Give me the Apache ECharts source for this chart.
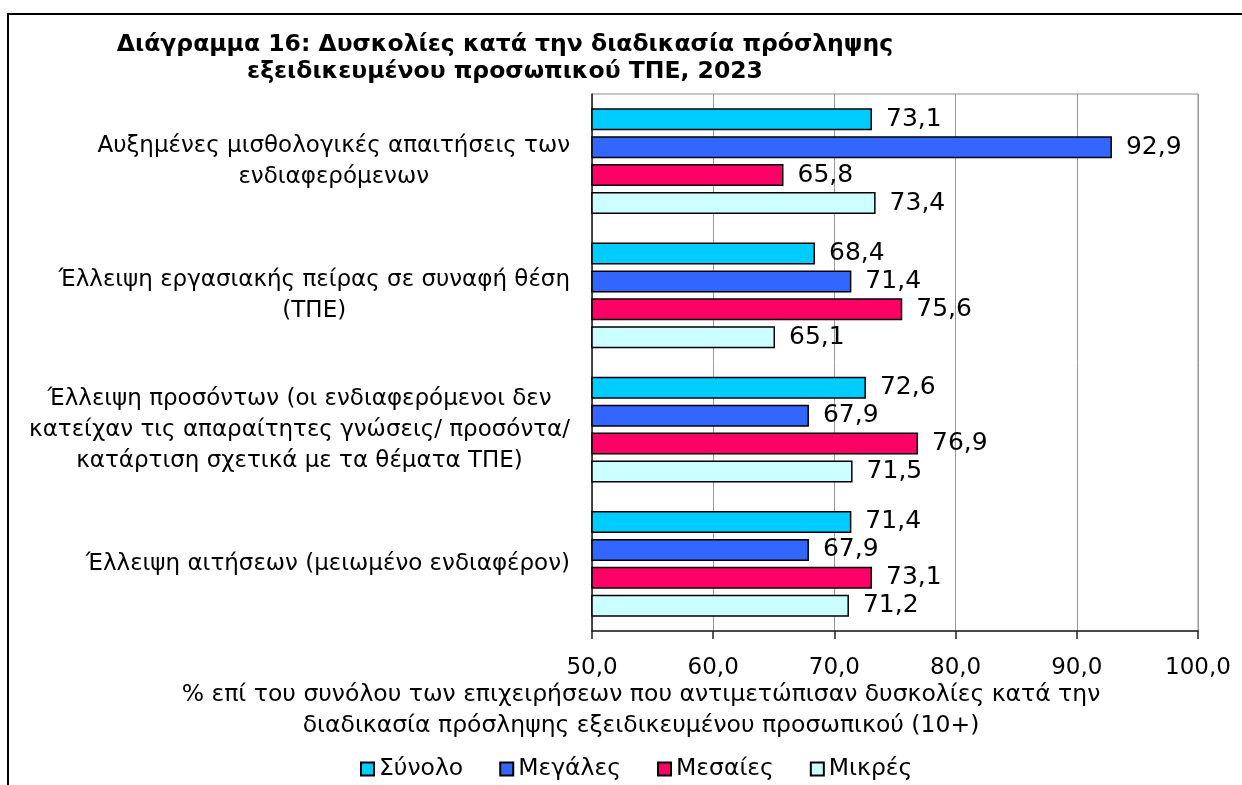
<!DOCTYPE html>
<html>
<head>
<meta charset="utf-8">
<script src="https://cdn.jsdelivr.net/npm/echarts@6/dist/echarts.min.js"></script>
<style>
  html, body { margin: 0; padding: 0; background: #fff; }
  #chart { width: 1242px; height: 785px; }
</style>
</head>
<body>
<div id="chart"></div>
<script>
var categories = [
  'Αυξημένες μισθολογικές απαιτήσεις των\nενδιαφερόμενων',
  'Έλλειψη εργασιακής πείρας σε συναφή θέση\n(ΤΠΕ)',
  'Έλλειψη προσόντων (οι ενδιαφερόμενοι δεν\nκατείχαν τις απαραίτητες γνώσεις/ προσόντα/\nκατάρτιση σχετικά με τα θέματα ΤΠΕ)',
  'Έλλειψη αιτήσεων (μειωμένο ενδιαφέρον)'
];
var seriesNames = ['Σύνολο', 'Μεγάλες', 'Μεσαίες', 'Μικρές'];
var synolo  = [73.1, 68.4, 72.6, 71.4];
var megales = [92.9, 71.4, 67.9, 67.9];
var mesaies = [65.8, 75.6, 76.9, 73.1];
var mikres  = [73.4, 65.1, 71.5, 71.2];
var colors = ['#00CCFF', '#3366FF', '#FF0066', '#CCFFFF'];

var font = 'DejaVu Sans, Verdana, sans-serif';
var chart = echarts.init(document.getElementById('chart'));

function comma(v) {
  return v.toFixed(1).replace('.', ',');
}

var allData = [synolo, megales, mesaies, mikres];
var myseries = [];
for (var i = 0; i < allData.length; i++) {
  myseries.push({
    name: seriesNames[i],
    type: 'bar',
    data: allData[i],
    barWidth: 22,
    barGap: '27%',
    barCategoryGap: '21%',
    itemStyle: { color: colors[i], borderColor: '#000', borderWidth: 1.5 },
    label: {
      show: true,
      position: 'right',
      distance: 14,
      color: '#000',
      fontFamily: font,
      fontSize: 25,
      formatter: function (p) { return comma(p.value); }
    }
  });
}

var option = {
  animation: false,
  textStyle: { fontFamily: font },
  grid: {
    left: 592, right: 44, top: 94, bottom: 154,
    show: true, borderColor: '#8c8c8c', borderWidth: 1
  },
  legend: {
    data: seriesNames,
    left: 355,
    top: 752,
    icon: 'rect',
    itemWidth: 13,
    itemHeight: 13,
    itemGap: 36,
    textStyle: { fontFamily: font, fontSize: 23.5, color: '#000' }
  },
  xAxis: {
    type: 'value',
    min: 50, max: 100, interval: 10,
    axisLine: { show: true, lineStyle: { color: '#222', width: 1.5 } },
    axisTick: { show: true, length: 8, lineStyle: { color: '#222', width: 1.5 } },
    axisLabel: {
      color: '#000', fontSize: 23, fontFamily: font, margin: 26,
      formatter: function (v) { return comma(v); }
    },
    splitLine: { show: true, lineStyle: { color: '#999', width: 1 } }
  },
  yAxis: {
    type: 'category',
    inverse: true,
    data: categories,
    axisLine: { show: true, lineStyle: { color: '#222', width: 1.5 } },
    axisTick: { show: false },
    axisLabel: {
      color: '#000', fontSize: 23, fontFamily: font, margin: 22, lineHeight: 31,
      formatter: function (v) {
        return v.split('\n').map(function (s) { return '{c|' + s + '}'; }).join('\n');
      },
      rich: { c: { align: 'center', fontSize: 23, fontFamily: font, color: '#000', lineHeight: 31 } }
    }
  },
  graphic: [
    {
      type: 'rect',
      shape: { x: 8, y: 14, width: 1300, height: 900 },
      style: { fill: 'none', stroke: '#000', lineWidth: 2 },
      silent: true
    },
    {
      type: 'text',
      style: {
        x: 505, y: 31,
        text: 'Διάγραμμα 16: Δυσκολίες κατά την διαδικασία πρόσληψης\nεξειδικευμένου προσωπικού ΤΠΕ, 2023',
        fontFamily: font, fontSize: 23.5, fontWeight: 'bold', fill: '#000',
        textAlign: 'center', lineHeight: 27
      }
    },
    {
      type: 'text',
      style: {
        x: 641, y: 679,
        text: '% επί του συνόλου των επιχειρήσεων που αντιμετώπισαν δυσκολίες κατά την\nδιαδικασία πρόσληψης εξειδικευμένου προσωπικού (10+)',
        fontFamily: font, fontSize: 23.5, fill: '#000',
        textAlign: 'center', lineHeight: 31
      }
    }
  ],
  series: myseries
};

chart.setOption(option, true);
</script>
</body>
</html>
